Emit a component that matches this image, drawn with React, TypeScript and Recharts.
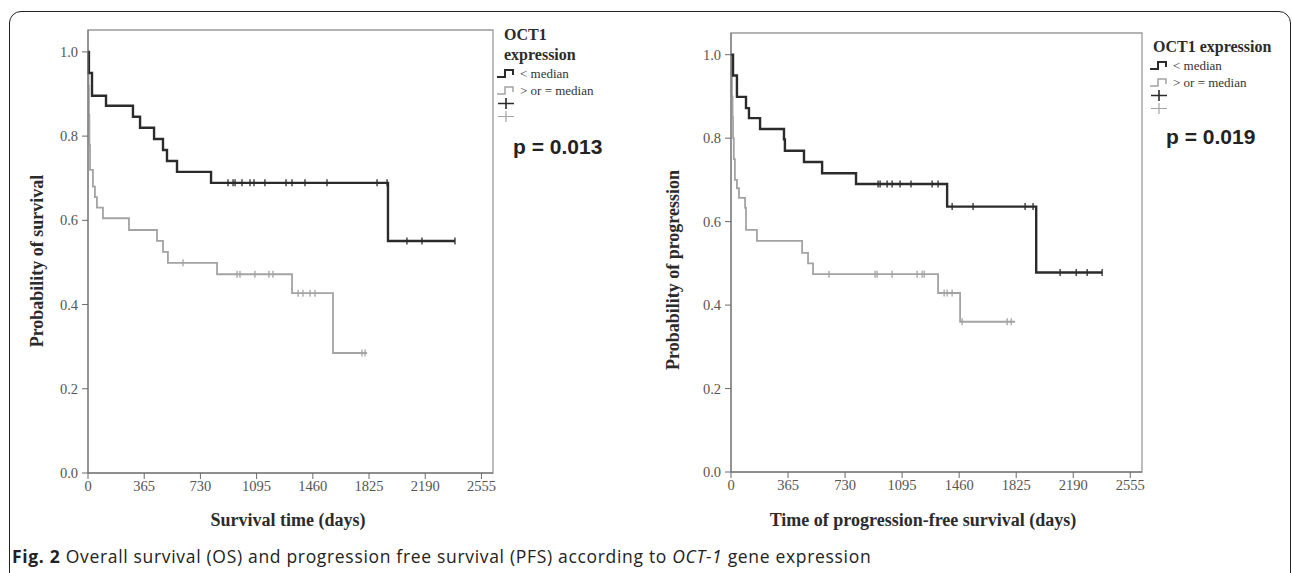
import React from "react"
import {
  ComposedChart,
  Line,
  Scatter,
  XAxis,
  YAxis,
  ReferenceArea,
} from "recharts"

// days since diagnosis, survival probability (Kaplan-Meier step points)
const osLowT = [0, 6, 26, 117, 292, 338, 429, 487, 513, 578, 799, 1948, 2383]
const osLowS = [1.0, 0.95, 0.896, 0.872, 0.846, 0.82, 0.793, 0.767, 0.741, 0.715, 0.689, 0.551, 0.551]
const osLowCensT = [909, 942, 955, 1000, 1052, 1078, 1149, 1286, 1325, 1409, 1552, 1877, 1942, 2071, 2169, 2383]
const osLowCensS = [0.689, 0.689, 0.689, 0.689, 0.689, 0.689, 0.689, 0.689, 0.689, 0.689, 0.689, 0.689, 0.689, 0.551, 0.551, 0.551]

const osHighT = [0, 3, 6, 9, 13, 32, 45, 58, 97, 266, 448, 487, 519, 838, 1325, 1591, 1812]
const osHighS = [1.0, 0.92, 0.85, 0.78, 0.72, 0.68, 0.655, 0.63, 0.605, 0.577, 0.551, 0.525, 0.499, 0.472, 0.427, 0.285, 0.285]
const osHighCensT = [617, 968, 987, 1084, 1175, 1201, 1364, 1396, 1442, 1474, 1779, 1799]
const osHighCensS = [0.499, 0.472, 0.472, 0.472, 0.472, 0.472, 0.427, 0.427, 0.427, 0.427, 0.285, 0.285]

const pfsLowT = [0, 13, 38, 96, 115, 186, 339, 345, 467, 583, 800, 1383, 1953, 2375]
const pfsLowS = [1.0, 0.95, 0.899, 0.872, 0.848, 0.822, 0.797, 0.77, 0.743, 0.716, 0.69, 0.636, 0.478, 0.478]
const pfsLowCensT = [941, 954, 999, 1031, 1082, 1152, 1287, 1325, 1415, 1549, 1882, 1933, 2106, 2209, 2279, 2375]
const pfsLowCensS = [0.69, 0.69, 0.69, 0.69, 0.69, 0.69, 0.69, 0.69, 0.636, 0.636, 0.636, 0.636, 0.478, 0.478, 0.478, 0.478]

const pfsHighT = [0, 3, 6, 10, 13, 18, 25, 38, 51, 90, 96, 166, 455, 493, 525, 1325, 1466, 1818]
const pfsHighS = [1.0, 0.95, 0.9, 0.85, 0.8, 0.75, 0.7, 0.68, 0.657, 0.633, 0.58, 0.554, 0.525, 0.5, 0.474, 0.429, 0.36, 0.36]
const pfsHighCensT = [627, 922, 935, 1031, 1191, 1223, 1236, 1364, 1383, 1415, 1479, 1767, 1793]
const pfsHighCensS = [0.474, 0.474, 0.474, 0.474, 0.474, 0.474, 0.474, 0.429, 0.429, 0.429, 0.36, 0.36, 0.36]

const xTicks = [0, 365, 730, 1095, 1460, 1825, 2190, 2555]
const yTicks = [0, 0.2, 0.4, 0.6, 0.8, 1.0]
const X_MAX = 2630
const Y_MAX = 1.052

const DARK = "#2b2b2b"
const LIGHT = "#a3a3a3"
const SERIF = "'Liberation Serif', 'Times New Roman', serif"

function zip(t: number[], s: number[]) {
  return t.map((v, i) => ({ t: v, s: s[i] }))
}

function censorShape(color: string) {
  // eslint-disable-next-line @typescript-eslint/no-explicit-any
  return (props: any) => {
    const { cx, cy } = props
    if (cx == null || cy == null) return <g />
    return <line x1={cx} x2={cx} y1={cy - 3.5} y2={cy + 3.5} stroke={color} strokeWidth={1.3} />
  }
}

// eslint-disable-next-line @typescript-eslint/no-explicit-any
function XTick({ x, y, payload }: any) {
  return (
    <text x={x} y={y + 12} textAnchor="middle" fontSize={14.5} fill="#555" fontFamily={SERIF}>
      {payload.value}
    </text>
  )
}

// eslint-disable-next-line @typescript-eslint/no-explicit-any
function YTick({ x, y, payload }: any) {
  return (
    <text x={x - 1} y={y + 5} textAnchor="end" fontSize={14.5} fill="#555" fontFamily={SERIF}>
      {Number(payload.value).toFixed(1)}
    </text>
  )
}

interface PanelProps {
  left: number
  top: number
  marginLeft: number
  marginRight: number
  marginBottom: number
  low: { t: number; s: number }[]
  high: { t: number; s: number }[]
  lowCens: { t: number; s: number }[]
  highCens: { t: number; s: number }[]
}

function KMPanel({ left, top, marginLeft, marginRight, marginBottom, low, high, lowCens, highCens }: PanelProps) {
  return (
    <div style={{ position: "absolute", left, top: 0 }}>
      <ComposedChart
        width={640}
        height={530}
        margin={{ top, right: marginRight, left: marginLeft, bottom: marginBottom }}
      >
        <XAxis
          type="number"
          dataKey="t"
          domain={[0, X_MAX]}
          ticks={xTicks}
          tick={<XTick />}
          tickSize={6}
          tickMargin={0}
          stroke="#6a6a6a"
          height={30}
          interval={0}
        />
        <YAxis
          type="number"
          dataKey="s"
          domain={[0, Y_MAX]}
          ticks={yTicks}
          tick={<YTick />}
          tickSize={6}
          tickMargin={3}
          stroke="#6a6a6a"
          width={40}
          interval={0}
        />
        <ReferenceArea x1={0} x2={X_MAX} y1={0} y2={Y_MAX} fill="none" stroke="#9a9a9a" strokeWidth={1.3} ifOverflow="visible" />
        <Line data={high} dataKey="s" type="stepAfter" stroke={LIGHT} strokeWidth={1.8} dot={false} isAnimationActive={false} />
        <Line data={low} dataKey="s" type="stepAfter" stroke={DARK} strokeWidth={2.4} dot={false} isAnimationActive={false} />
        <Scatter data={highCens} dataKey="s" shape={censorShape(LIGHT)} isAnimationActive={false} />
        <Scatter data={lowCens} dataKey="s" shape={censorShape(DARK)} isAnimationActive={false} />
      </ComposedChart>
    </div>
  )
}

function StepIcon({ color }: { color: string }) {
  return (
    <svg width={20} height={11} style={{ display: "block" }}>
      <path d="M1 9 H9 V2 H17 V7" fill="none" stroke={color} strokeWidth={color === DARK ? 2 : 1.5} />
    </svg>
  )
}

function PlusIcon({ color }: { color: string }) {
  return (
    <svg width={20} height={13} style={{ display: "block" }}>
      <path d="M2 6.5 H18 M10 1 V12" fill="none" stroke={color} strokeWidth={color === DARK ? 1.6 : 1.2} />
    </svg>
  )
}

function KMLegend({ x, y, twoLine, pY, pText }: { x: number; y: number; twoLine: boolean; pY: number; pText: string }) {
  const title = { fontFamily: SERIF, fontWeight: 700, fontSize: 16, color: "#2b2b2b", lineHeight: "20px", whiteSpace: "nowrap" as const }
  const item = { fontFamily: SERIF, fontSize: 13, color: "#333", lineHeight: "13px", marginLeft: 4, whiteSpace: "nowrap" as const }
  return (
    <>
      <div style={{ position: "absolute", left: x, top: y }}>
        {twoLine ? (
          <>
            <div style={{ ...title, marginLeft: 8 }}>OCT1</div>
            <div style={{ ...title, marginLeft: 8 }}>expression</div>
          </>
        ) : (
          <div style={{ ...title, marginLeft: 4 }}>OCT1 expression</div>
        )}
        <div style={{ display: "flex", alignItems: "center", marginTop: 2 }}>
          <StepIcon color={DARK} />
          <span style={item}>&lt; median</span>
        </div>
        <div style={{ display: "flex", alignItems: "center", marginTop: 4 }}>
          <StepIcon color={LIGHT} />
          <span style={item}>&gt; or = median</span>
        </div>
        <PlusIcon color={DARK} />
        <PlusIcon color={LIGHT} />
      </div>
      <div
        style={{
          position: "absolute",
          left: x + 17,
          top: pY,
          fontFamily: "'Liberation Sans', Arial, sans-serif",
          fontWeight: 700,
          fontSize: 21,
          color: "#222",
          whiteSpace: "nowrap",
        }}
      >
        {pText}
      </div>
    </>
  )
}

const axisTitle = {
  position: "absolute" as const,
  fontFamily: SERIF,
  fontWeight: 700,
  fontSize: 18,
  color: "#2b2b2b",
  whiteSpace: "nowrap" as const,
}

export default function App() {
  return (
    <div
      style={{
        position: "absolute",
        left: 0,
        top: 0,
        width: 1292,
        height: 573,
        overflow: "hidden",
        background: "#fff",
      }}
    >
      <div
        style={{
          position: "absolute",
          left: 9,
          top: 11,
          width: 1280,
          height: 620,
          border: "1.5px solid #222",
          borderRadius: 12,
        }}
      />

      <KMPanel
        left={0}
        top={30}
        marginLeft={48}
        marginRight={147}
        marginBottom={27}
        low={zip(osLowT, osLowS)}
        high={zip(osHighT, osHighS)}
        lowCens={zip(osLowCensT, osLowCensS)}
        highCens={zip(osHighCensT, osHighCensS)}
      />
      <KMPanel
        left={640}
        top={33}
        marginLeft={51}
        marginRight={138}
        marginBottom={28}
        low={zip(pfsLowT, pfsLowS)}
        high={zip(pfsHighT, pfsHighS)}
        lowCens={zip(pfsLowCensT, pfsLowCensS)}
        highCens={zip(pfsHighCensT, pfsHighCensS)}
      />

      <div style={{ ...axisTitle, left: 37, top: 261, transform: "translate(-50%, -50%) rotate(-90deg)" }}>
        Probability of survival
      </div>
      <div style={{ ...axisTitle, left: 673, top: 270, transform: "translate(-50%, -50%) rotate(-90deg)" }}>
        Probability of progression
      </div>
      <div style={{ ...axisTitle, left: 288, top: 520, transform: "translate(-50%, -50%)" }}>
        Survival time (days)
      </div>
      <div style={{ ...axisTitle, left: 923, top: 520, transform: "translate(-50%, -50%)" }}>
        Time of progression-free survival (days)
      </div>

      <KMLegend x={496} y={25} twoLine pY={135} pText="p = 0.013" />
      <KMLegend x={1149} y={37} twoLine={false} pY={125} pText="p = 0.019" />

      <div
        style={{
          position: "absolute",
          left: 12,
          top: 544,
          fontFamily: "'Open Sans', 'Noto Sans', sans-serif",
          fontSize: 17.5,
          letterSpacing: 0.68,
          color: "#222",
          whiteSpace: "nowrap",
        }}
      >
        <b>Fig. 2</b> Overall survival (OS) and progression free survival (PFS) according to <i>OCT-1</i> gene
        expression
      </div>
    </div>
  )
}
